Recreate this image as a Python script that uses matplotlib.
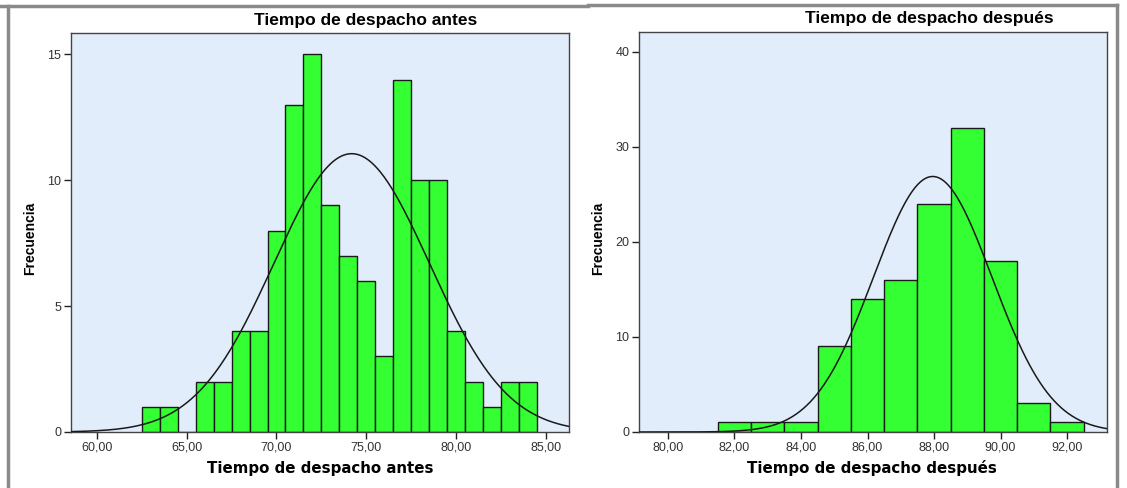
import matplotlib.pyplot as plt
from matplotlib.lines import Line2D
import numpy as np

# histograma "antes": centros de clase y frecuencias
antes_centros = [63, 64, 65, 66, 67, 68, 69, 70, 71, 72, 73, 74, 75, 76, 77, 78, 79, 80, 81, 82, 83, 84]
antes_frec = [1, 1, 0, 2, 2, 4, 4, 8, 13, 15, 9, 7, 6, 3, 14, 10, 10, 4, 2, 1, 2, 2]
antes_media = 74.19
antes_desv = 4.33
antes_xticks = [60, 65, 70, 75, 80, 85]
antes_yticks = [0, 5, 10, 15]

# histograma "después"
despues_centros = [82, 83, 84, 85, 86, 87, 88, 89, 90, 91, 92]
despues_frec = [1, 1, 1, 9, 14, 16, 24, 32, 18, 3, 1]
despues_media = 87.96
despues_desv = 1.78
despues_xticks = [80, 82, 84, 86, 88, 90, 92]
despues_yticks = [0, 10, 20, 30, 40]

W, H = 1127, 488
fig = plt.figure(figsize=(W / 100, H / 100), dpi=100)

verde = '#33ff33'
fondo = '#e1edfa'


def histograma(rect, centros, frec, media, desv, xlim, ylim, xticks, yticks):
    ax = fig.add_axes(rect)
    ax.set_facecolor(fondo)
    ax.bar(centros, frec, width=1.0, color=verde, edgecolor='#1a1a1a', linewidth=1.0, zorder=2)
    x = np.linspace(xlim[0], xlim[1], 400)
    n = sum(frec)
    y = n / (desv * np.sqrt(2 * np.pi)) * np.exp(-0.5 * ((x - media) / desv) ** 2)
    ax.plot(x, y, color='#1a1a1a', linewidth=1.1, zorder=3)
    ax.set_xlim(xlim)
    ax.set_ylim(ylim)
    ax.set_xticks(xticks)
    ax.set_xticklabels([('%.2f' % t).replace('.', ',') for t in xticks])
    ax.set_yticks(yticks)
    ax.tick_params(direction='out', length=5, width=1, color='#222222',
                   labelsize=9, labelcolor='#333333', pad=2)
    for s in ax.spines.values():
        s.set_color('#444444')
        s.set_linewidth(1.0)
    for lab in ax.get_xticklabels() + ax.get_yticklabels():
        lab.set_family('Liberation Sans')
    return ax


ax1 = histograma([71 / W, 1 - 432 / H, 498 / W, 399 / H],
                 antes_centros, antes_frec, antes_media, antes_desv,
                 (58.55, 86.3), (0, 15.85), antes_xticks, antes_yticks)
ax2 = histograma([639 / W, 1 - 432 / H, 468 / W, 400 / H],
                 despues_centros, despues_frec, despues_media, despues_desv,
                 (79.13, 93.2), (0, 42.1), despues_xticks, despues_yticks)

# titulos y etiquetas
fig.text(366 / W, 1 - 20 / H, 'Tiempo de despacho antes', ha='center', va='center',
         fontsize=12.5, fontweight='bold', family='Liberation Sans')
fig.text(929 / W, 1 - 19 / H, 'Tiempo de despacho después', ha='center', va='center',
         fontsize=12.5, fontweight='bold', family='Liberation Sans')
fig.text(320 / W, 1 - 468 / H, 'Tiempo de despacho antes', ha='center', va='center',
         fontsize=10.8, fontweight='bold', family='DejaVu Sans')
fig.text(872 / W, 1 - 468 / H, 'Tiempo de despacho después', ha='center', va='center',
         fontsize=10.8, fontweight='bold', family='DejaVu Sans')
fig.text(30 / W, 1 - 238 / H, 'Frecuencia', ha='center', va='center', rotation=90,
         fontsize=10, fontweight='bold', family=['Liberation Sans Narrow', 'Liberation Sans'])
fig.text(598 / W, 1 - 238 / H, 'Frecuencia', ha='center', va='center', rotation=90,
         fontsize=10, fontweight='bold', family=['Liberation Sans Narrow', 'Liberation Sans'])

# marco gris de la salida
gris = '#8a8a8a'
fig.add_artist(Line2D([0, 588 / W], [1 - 6 / H, 1 - 6 / H], color=gris, lw=2.5))
fig.add_artist(Line2D([588 / W, 1117 / W], [1 - 5 / H, 1 - 5 / H], color=gris, lw=2.5))
fig.add_artist(Line2D([8 / W, 8 / W], [0, 1 - 6 / H], color=gris, lw=2.5))
fig.add_artist(Line2D([1117 / W, 1117 / W], [0, 1 - 5 / H], color=gris, lw=2.5))

fig.savefig('out.png', dpi=100)
